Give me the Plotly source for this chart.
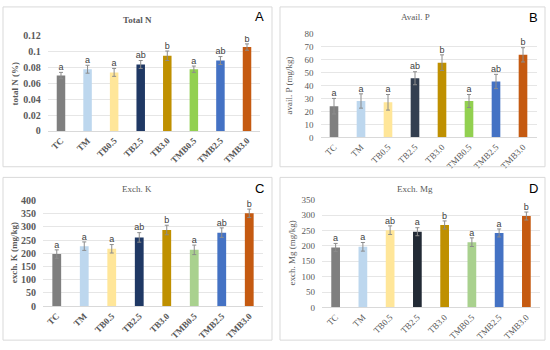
import plotly.graph_objects as go

categories = ["TC", "TM", "TB0.5", "TB2.5", "TB3.0", "TMB0.5", "TMB2.5", "TMB3.0"]

total_n = [0.070, 0.078, 0.074, 0.084, 0.095, 0.078, 0.089, 0.106]
total_n_err = [0.004, 0.005, 0.005, 0.005, 0.006, 0.004, 0.005, 0.004]
total_n_sig = ["a", "a", "a", "ab", "b", "a", "ab", "b"]

avail_p = [24, 28, 27, 45.5, 57.5, 28, 43, 63.5]
avail_p_err = [6, 5.5, 6, 5, 6, 5, 5.5, 5.5]
avail_p_sig = ["a", "a", "a", "ab", "b", "a", "ab", "b"]

exch_k = [197, 227, 217, 260, 288, 213, 278, 351]
exch_k_err = [16, 16, 16, 18, 18, 18, 18, 16]
exch_k_sig = ["a", "a", "a", "ab", "b", "a", "ab", "b"]

exch_mg = [195, 197, 251, 246, 268, 212, 242, 297]
exch_mg_err = [13, 14, 14, 13, 13, 14, 13, 13]
exch_mg_sig = ["a", "a", "ab", "a", "b", "a", "a", "b"]

colors_a = ["#7f7f7f", "#bdd7ee", "#ffe699", "#1f3864", "#bf9000", "#92d050", "#4472c4", "#c55a11"]
colors_b = ["#7f7f7f", "#bdd7ee", "#ffe699", "#333f50", "#bf9000", "#92d050", "#4472c4", "#c55a11"]
colors_c = ["#7f7f7f", "#bdd7ee", "#ffe699", "#1f3864", "#bf9000", "#a9d18e", "#4472c4", "#c55a11"]
colors_d = ["#7f7f7f", "#bdd7ee", "#ffe699", "#222a35", "#bf9000", "#a9d18e", "#4472c4", "#c55a11"]

W, H = 550, 350
def px(x): return x / W
def py(y): return 1 - y / H

panels = [
    dict(vals=total_n, err=total_n_err, sig=total_n_sig, colors=colors_a, title="<b>Total N</b>", letter="A",
         ytitle="total N (%)", rng=[0, 0.12], dtick=0.02, bold=True,
         xd=[47.7, 260.3], yd=[130, 32], box=[3, 272, 2, 167], tpos=(137, 16), lpos=(259, 12), ytx=15),
    dict(vals=avail_p, err=avail_p_err, sig=avail_p_sig, colors=colors_b, title="Avail. P", letter="B",
         ytitle="avail. P (mg/kg)", rng=[0, 80], dtick=10, bold=False,
         xd=[320.5, 536.5], yd=[136.7, 29.3], box=[280, 545, 2, 167], tpos=(415, 12), lpos=(533, 13), ytx=289),
    dict(vals=exch_k, err=exch_k_err, sig=exch_k_sig, colors=colors_c, title="Exch. K", letter="C",
         ytitle="exch. K (mg/kg)", rng=[0, 400], dtick=50, bold=True,
         xd=[43, 263], yd=[311, 201.7], box=[3, 272, 178, 346], tpos=(137, 190), lpos=(259, 189), ytx=14),
    dict(vals=exch_mg, err=exch_mg_err, sig=exch_mg_sig, colors=colors_d, title="Exch. Mg", letter="D",
         ytitle="exch. Mg (mg/kg)", rng=[0, 350], dtick=50, bold=False,
         xd=[322, 540], yd=[312.3, 201], box=[280, 545, 178, 346], tpos=(415, 190), lpos=(533, 189), ytx=292),
]

fig = go.Figure()
shapes, annotations = [], []
layout = {}
serif = "Liberation Serif"
sans = "Liberation Sans"

for i, p in enumerate(panels, start=1):
    xa = "x" if i == 1 else f"x{i}"
    ya = "y" if i == 1 else f"y{i}"
    fig.add_trace(go.Bar(
        x=categories, y=p["vals"], marker=dict(color=p["colors"], line=dict(width=0)),
        error_y=dict(type="data", array=p["err"], color="#8c8c8c", thickness=1, width=2),
        xaxis=xa, yaxis=ya, showlegend=False, hoverinfo="skip"))
    fig.add_trace(go.Scatter(
        x=categories, y=[v + e for v, e in zip(p["vals"], p["err"])], text=p["sig"],
        mode="text", textposition="top center",
        textfont=dict(family=sans, size=9, color="#404040"),
        xaxis=xa, yaxis=ya, showlegend=False, hoverinfo="skip"))
    tickfont = dict(family=serif, size=10 if p["bold"] else 9, color="#595959")
    tickvals = []
    v = p["rng"][0]
    while v <= p["rng"][1] + 1e-9:
        tickvals.append(round(v, 4))
        v += p["dtick"]
    ticktext = [(f"<b>{t:g}</b>" if p["bold"] else f"{t:g}") for t in tickvals]
    layout["xaxis" if i == 1 else f"xaxis{i}"] = dict(
        domain=[px(p["xd"][0]), px(p["xd"][1])], anchor=ya, type="category",
        range=[-0.5, 7.5], tickangle=-45, showgrid=False, showline=True, linecolor="#d9d9d9",
        ticks="", tickfont=dict(family=serif, size=9, color="#595959"),
        tickvals=categories, ticktext=[(f"<b>{c}</b>" if p["bold"] else c) for c in categories],
        fixedrange=True)
    layout["yaxis" if i == 1 else f"yaxis{i}"] = dict(
        domain=[py(p["yd"][0]), py(p["yd"][1])], anchor=xa, range=p["rng"],
        tickvals=tickvals, ticktext=ticktext, tickfont=tickfont,
        showgrid=True, gridcolor="#e6e6e6", gridwidth=1, zeroline=False, showline=False,
        ticks="", ticklabelstandoff=6, fixedrange=True)
    b = p["box"]
    shapes.append(dict(type="rect", xref="paper", yref="paper",
                       x0=px(b[0]), x1=px(b[1]), y0=py(b[3]), y1=py(b[2]),
                       line=dict(color="#d9d9d9", width=1), fillcolor="rgba(0,0,0,0)"))
    annotations.append(dict(text=p["title"], xref="paper", yref="paper",
                            x=px(p["tpos"][0]), y=py(p["tpos"][1]), showarrow=False,
                            xanchor="center", yanchor="middle",
                            font=dict(family=serif, size=9, color="#595959")))
    annotations.append(dict(text=p["letter"], xref="paper", yref="paper",
                            x=px(p["lpos"][0]), y=py(p["lpos"][1]), showarrow=False,
                            xanchor="center", yanchor="middle",
                            font=dict(family=sans, size=13, color="#000000")))
    ymid = (p["yd"][0] + p["yd"][1]) / 2
    ytxt = f"<b>{p['ytitle']}</b>" if p["bold"] else p["ytitle"]
    annotations.append(dict(text=ytxt, xref="paper", yref="paper",
                            x=px(p["ytx"]), y=py(ymid), showarrow=False, textangle=-90,
                            xanchor="center", yanchor="middle",
                            font=dict(family=serif, size=9, color="#595959")))

fig.update_layout(
    width=W, height=H, margin=dict(l=0, r=0, t=0, b=0),
    paper_bgcolor="white", plot_bgcolor="white", bargap=0.68,
    shapes=shapes, annotations=annotations, **layout)

fig.write_html("out.html", config={"displayModeBar": False},
               post_script="document.body.style.margin='0';document.body.style.overflow='hidden';")
